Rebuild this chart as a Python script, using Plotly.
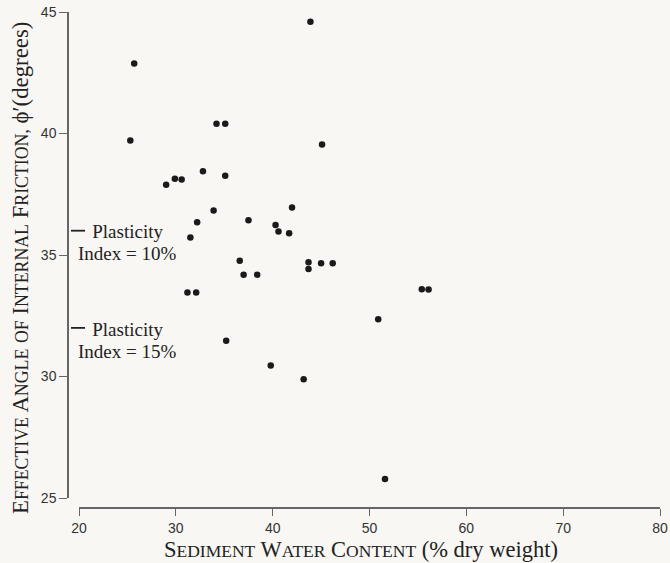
import plotly.graph_objects as go

# Sediment water content (% dry weight)
water_content = [43.9, 34.2, 35.1, 45.1, 32.8, 35.1, 29.0, 29.9, 30.6, 33.9,
                 32.2, 37.5, 42.0, 40.3, 40.6, 41.7, 31.5, 36.6, 37.0, 38.4,
                 43.7, 43.7, 45.0, 46.2, 31.2, 32.1, 55.4, 56.1, 50.9, 35.2,
                 39.8, 43.2, 51.6, 25.7, 25.3]
# Effective angle of internal friction (degrees)
friction_angle = [44.6, 40.4, 40.4, 39.55, 38.45, 38.26, 37.89, 38.14, 38.11, 36.83,
                  36.35, 36.43, 36.95, 36.23, 35.97, 35.90, 35.72, 34.76, 34.19, 34.19,
                  34.70, 34.42, 34.66, 34.66, 33.46, 33.46, 33.59, 33.58, 32.36, 31.47,
                  30.45, 29.89, 25.78, 42.88, 39.71]

x_ticks = [20, 30, 40, 50, 60, 70, 80]
y_ticks = [25, 30, 35, 40, 45]
plasticity_levels = [36, 32]
plasticity_labels = ["10%", "15%"]

BG = "#f8f7f3"
SERIF = "Liberation Serif, Times New Roman, serif"
SANS = "Liberation Sans, Arial, sans-serif"
AXC = "#666666"


def small_caps(text, big, small):
    out = []
    for word in text.split(" "):
        if word.islower():
            out.append('<span style="font-size:%.1fpx">%s</span>' % (small, word.upper()))
        else:
            out.append('%s<span style="font-size:%.1fpx">%s</span>' % (word[0], small, word[1:].upper()))
    return " ".join(out)


fig = go.Figure()
fig.add_trace(go.Scatter(
    x=water_content, y=friction_angle, mode="markers",
    marker=dict(size=6.5, color="#1a1a1a"),
    showlegend=False, cliponaxis=False, hoverinfo="skip",
))

W, H = 670, 563
ML, MR, MT, MB = 68, 10, 12, 55
pw = W - ML - MR
ph = H - MT - MB


def px_x(p):
    return (p - ML) / pw


def px_y(p):
    return (H - MB - p) / ph


fig.update_layout(
    width=W, height=H,
    margin=dict(l=ML, r=MR, t=MT, b=MB, pad=0, autoexpand=False),
    paper_bgcolor=BG, plot_bgcolor=BG,
    xaxis=dict(
        domain=[px_x(79), 1], range=[20, 80], anchor="free", position=0,
        automargin=False,
        tickvals=x_ticks, ticks="outside", ticklen=7, tickwidth=1.2, tickcolor=AXC,
        showline=True, linecolor=AXC, linewidth=1.5, showgrid=False, zeroline=False,
        tickfont=dict(family=SANS, size=14, color="#333333"),
    ),
    yaxis=dict(
        domain=[px_y(498), 1], range=[25, 45], anchor="free", position=0,
        automargin=False,
        tickvals=y_ticks, ticks="outside", ticklen=8, tickwidth=1.2, tickcolor=AXC,
        showline=True, linecolor=AXC, linewidth=1.5, showgrid=False, zeroline=False,
        tickfont=dict(family=SANS, size=14, color="#333333"),
    ),
)

annotations = [
    dict(text=small_caps("Sediment Water Content", 22.5, 17.5) + " (% dry weight)",
         xref="paper", yref="paper", x=px_x(361), y=px_y(549),
         xanchor="center", yanchor="middle", showarrow=False,
         font=dict(family=SERIF, size=22.5, color="#222222")),
    dict(text=small_caps("Effective Angle of Internal Friction,", 22.8, 17.8) + " \u03d5\u2032(degrees)",
         xref="paper", yref="paper", x=px_x(20), y=px_y(268), textangle=-90,
         xanchor="center", yanchor="middle", showarrow=False,
         font=dict(family=SERIF, size=22.8, color="#222222")),
]
shapes = []
for lvl, lab in zip(plasticity_levels, plasticity_labels):
    shapes.append(dict(type="line", xref="paper", yref="y",
                       x0=px_x(71), x1=px_x(85), y0=lvl, y1=lvl,
                       line=dict(color="#222222", width=1.8)))
    label = ('<span style="font-size:19px">\u00a0\u00a0\u00a0Plasticity</span><br>'
             '<span style="font-size:19px">Index = %s</span>' % lab)
    annotations.append(dict(text=label, xref="paper", yref="y",
                            x=px_x(76), y=lvl - 0.5, xanchor="left", yanchor="middle",
                            align="left", showarrow=False,
                            font=dict(family=SERIF, size=17, color="#222222")))

fig.update_layout(annotations=annotations, shapes=shapes)
fig.write_html(
    "out.html",
    config={"displayModeBar": False, "responsive": False},
    post_script=(
        "document.documentElement.style.margin='0';"
        "document.body.style.margin='0';document.body.style.overflow='hidden';"
        "var gd=document.getElementById('{plot_id}');"
        "gd.style.position='fixed';gd.style.left='0px';gd.style.top='0px';"
    ),
)
